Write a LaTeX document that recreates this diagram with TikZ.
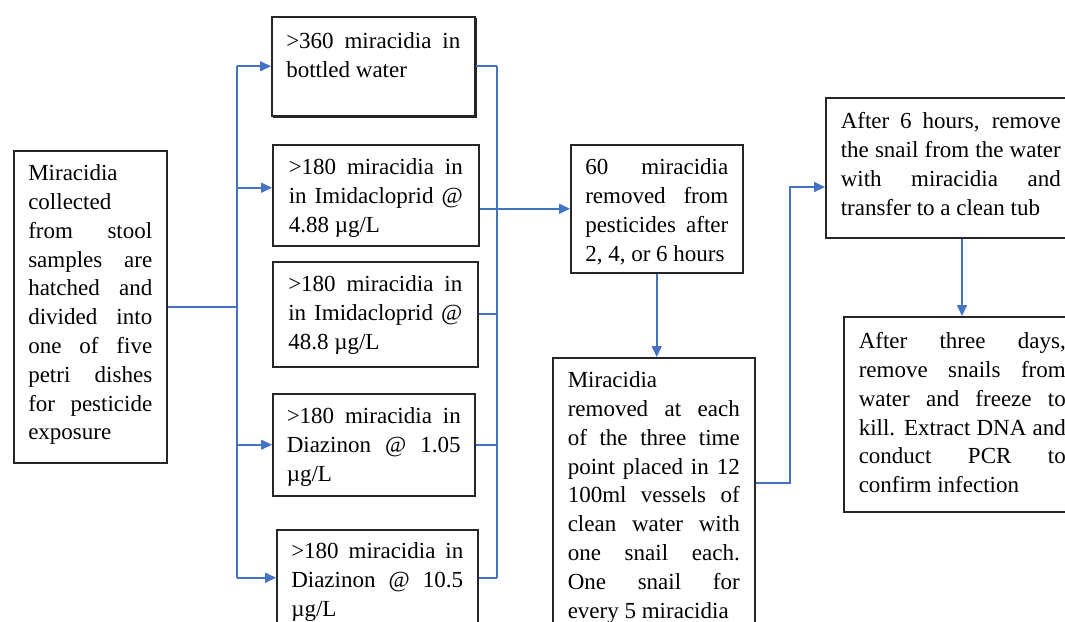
\documentclass[tikz,border=0pt]{standalone}
\usepackage{fontspec}
\setmainfont{Liberation Serif}
\usepackage{xcolor}
\usepackage{tikz}
\definecolor{boxline}{RGB}{38, 38, 38}
\definecolor{flowblue}{RGB}{68, 114, 196}
\usetikzlibrary{arrows.meta,shadows}
\tolerance=10000
\hyphenpenalty=10000
\exhyphenpenalty=10000

\begin{document}
\begin{tikzpicture}[
    x=1pt, y=-1pt,
    stepbox/.style={
        rectangle,
        draw=boxline,
        line width=1.5pt,
        fill=white,
        anchor=north west,
        inner sep=0pt,
        align=justify,
        font=\fontsize{23}{28.8}\selectfont
    },
    link/.style={draw=flowblue, line width=1.6pt},
    flow/.style={link, -{Triangle[length=11pt,width=10pt]}}
]
    \useasboundingbox (0,0) rectangle (1065,621);
    \clip (0,0) rectangle (1065,621);

    % Collection
    \node[stepbox, text width=124pt, minimum width=153pt, text height=30pt, text depth=282pt] (collect) at (13,150) {Miracidia\linebreak collected\linebreak from stool\linebreak samples are\linebreak hatched and\linebreak divided into\linebreak one of five\linebreak petri dishes\linebreak for pesticide\linebreak exposure};

    % Exposure dishes
    \node[stepbox, copy shadow={shadow xshift=1.5pt, shadow yshift=-1.5pt}, text width=174pt, minimum width=203pt, text height=32pt, text depth=67pt] (bottled) at (271,16) {>360 miracidia in\linebreak bottled water};
    \node[stepbox, text width=174pt, minimum width=206pt, text height=30pt, text depth=71pt] (imida1) at (272,144) {>180 miracidia in\linebreak in Imidacloprid @\linebreak 4.88 µg/L};
    \node[stepbox, text width=174pt, minimum width=205pt, text height=30pt, text depth=75pt] (imida2) at (272,261) {>180 miracidia in\linebreak in Imidacloprid @\linebreak 48.8 µg/L};
    \node[stepbox, text width=174pt, minimum width=202pt, text height=30pt, text depth=72pt] (diaz1) at (272,393) {>180 miracidia in\linebreak Diazinon @ 1.05\linebreak µg/L};
    \node[stepbox, text width=172pt, minimum width=201pt, text height=29pt, text depth=67pt] (diaz2) at (276,529) {>180 miracidia in\linebreak Diazinon @ 10.5\linebreak µg/L};

    % Snail exposure
    \node[stepbox, text width=143pt, minimum width=172pt, text height=30pt, text depth=98pt] (removed) at (570,144) {60 miracidia\linebreak removed from\linebreak pesticides after\linebreak 2, 4, or 6 hours};
    \node[stepbox, text width=172pt, minimum width=202pt, text height=30pt, text depth=300pt] (vessels) at (552,357) {Miracidia\linebreak removed at each\linebreak of the three time\linebreak point placed in 12\linebreak 100ml vessels of\linebreak clean water with\linebreak one snail each.\linebreak One snail for\linebreak every 5 miracidia};
    \node[stepbox, text width=220pt, minimum width=250pt, text height=31pt, text depth=109pt] (transfer) at (825,97) {After 6 hours, remove\linebreak the snail from the water\linebreak with miracidia and\linebreak transfer to a clean tub};
    \node[stepbox, text width=207pt, minimum width=237pt, text height=32pt, text depth=163pt] (harvest) at (843,316) {After three days,\linebreak remove snails from\linebreak water and freeze to\linebreak kill. Extract DNA and\linebreak conduct PCR to\linebreak confirm infection};

    % Bends
    \coordinate (split) at (237,0);
    \coordinate (merge) at (497,0);
    \coordinate (in2) at ([yshift=7.5pt]imida1.west);
    \coordinate (bend) at (790,483);
    \coordinate (rise) at (790,187);
    \coordinate (drop) at (962,0);

    % Split into dishes
    \draw[link] (collect.east) -- (collect.east -| split);
    \draw[link] (split |- bottled.west) -- (split |- diaz2.west);
    \foreach \n in {bottled,diaz1,diaz2}
        \draw[flow] (split |- \n.west) -- (\n.west);
    \draw[flow] (split |- in2) -- (in2);

    % Merge from dishes
    \foreach \n in {bottled,imida2,diaz1,diaz2}
        \draw[link] (\n.east) -- (\n.east -| merge);
    \draw[link] (merge |- bottled.east) -- (merge |- diaz2.east);
    \draw[flow] (imida1.east |- removed.west) -- (removed.west);

    % Later steps
    \draw[flow] (removed.south) -- (removed.south |- vessels.north);
    \draw[flow] (vessels.east |- bend) -- (bend) -- (rise) -- (transfer.west |- rise);
    \draw[flow] (transfer.south -| drop) -- (harvest.north -| drop);
\end{tikzpicture}
\end{document}
